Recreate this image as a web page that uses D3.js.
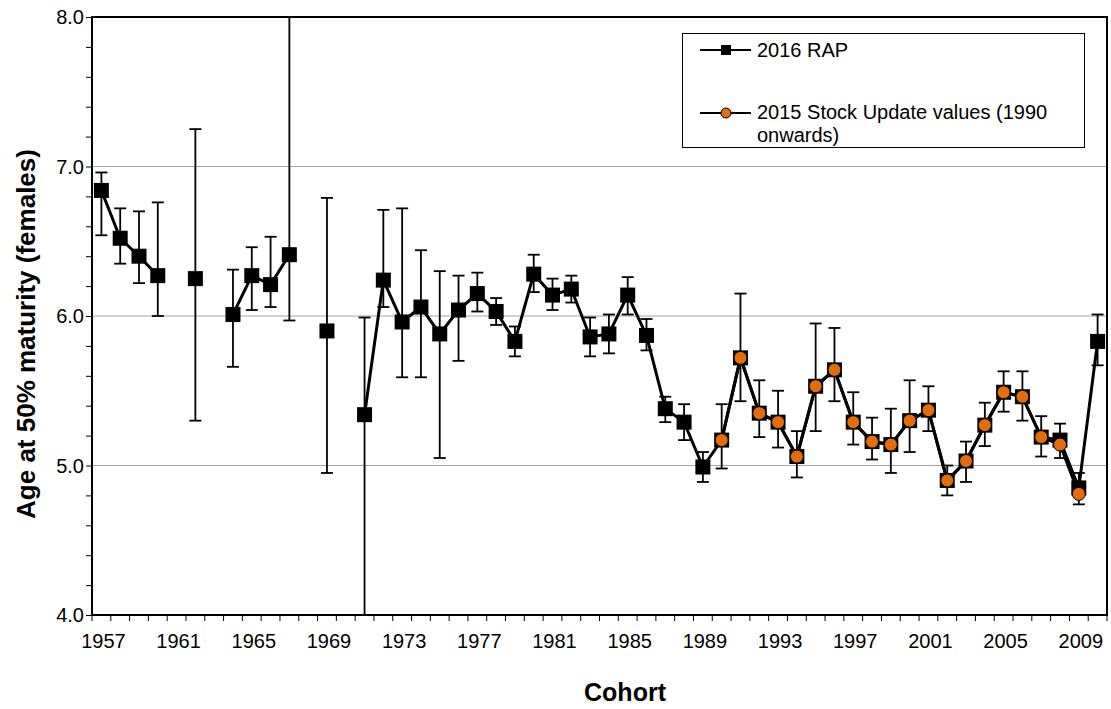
<!DOCTYPE html>
<html>
<head>
<meta charset="utf-8">
<script src="https://cdn.jsdelivr.net/npm/d3@7"></script>
<style>
    body { margin: 0; background: #fff; }
    text { font-family: "Liberation Sans", Arial, sans-serif; }
</style>
</head>
<body>
<div id="chart"></div>
<script>
// cohorts on the x axis (category axis, one slot per year)
const years = d3.range(1957, 2011);
const tickYears = [1957, 1961, 1965, 1969, 1973, 1977, 1981, 1985, 1989, 1993, 1997, 2001, 2005, 2009];
const yTicks = [4.0, 5.0, 6.0, 7.0, 8.0];

// 2016 RAP estimates (null = no estimate for that cohort)
const rapYears = years;
const rapValues = [6.84, 6.52, 6.40, 6.27, null, 6.25, null, 6.01, 6.27, 6.21, 6.41, null, 5.90, null,
    5.34, 6.24, 5.96, 6.06, 5.88, 6.04, 6.15, 6.03, 5.83, 6.28, 6.14, 6.18, 5.86, 5.88, 6.14, 5.87,
    5.38, 5.29, 4.99, 5.17, 5.72, 5.35, 5.29, 5.06, 5.53, 5.64, 5.29, 5.16, 5.14, 5.30, 5.37, 4.90,
    5.03, 5.27, 5.49, 5.46, 5.19, 5.17, 4.85, 5.83];
const rapLower = [6.54, 6.35, 6.22, 6.00, null, 5.30, null, 5.66, 6.04, 6.06, 5.97, null, 4.95, null,
    3.50, 6.06, 5.59, 5.59, 5.05, 5.70, 6.03, 5.94, 5.73, 6.16, 6.04, 6.09, 5.73, 5.75, 6.01, 5.77,
    5.29, 5.17, 4.89, 4.98, 5.43, 5.19, 5.12, 4.92, 5.23, 5.43, 5.14, 5.04, 4.95, 5.09, 5.23, 4.80,
    4.89, 5.13, 5.36, 5.30, 5.06, 5.05, 4.74, 5.67];
const rapUpper = [6.96, 6.72, 6.70, 6.76, null, 7.25, null, 6.31, 6.46, 6.53, 8.50, null, 6.79, null,
    5.99, 6.71, 6.72, 6.44, 6.30, 6.27, 6.29, 6.12, 5.93, 6.41, 6.25, 6.27, 5.99, 6.01, 6.26, 5.98,
    5.46, 5.41, 5.09, 5.41, 6.15, 5.57, 5.50, 5.23, 5.95, 5.92, 5.49, 5.32, 5.38, 5.57, 5.53, 5.00,
    5.16, 5.42, 5.63, 5.63, 5.33, 5.28, 4.95, 6.01];

// 2015 stock update values, 1990 onwards
const stockYears = d3.range(1990, 2010);
const stockValues = [5.17, 5.72, 5.35, 5.29, 5.06, 5.53, 5.64, 5.29, 5.16, 5.14, 5.30, 5.37, 4.90,
    5.03, 5.27, 5.49, 5.46, 5.19, 5.14, 4.81];

const seriesNames = ["2016 RAP", "2015 Stock Update values (1990", "onwards)"];

(function() {
    const width = 1111;
    const height = 709;
    const margin = { top: 17, right: 4, bottom: 94, left: 92 };
    const orange = "#e46c0a";

    const svg = d3.select("#chart")
        .append("svg")
        .attr("width", width)
        .attr("height", height);

    const x = d3.scaleBand()
        .domain(years)
        .range([margin.left, width - margin.right]);

    const y = d3.scaleLinear()
        .domain([4, 8])
        .range([height - margin.bottom, margin.top]);

    svg.append("clipPath")
        .attr("id", "plot-clip")
        .append("rect")
        .attr("x", margin.left)
        .attr("y", margin.top)
        .attr("width", width - margin.left - margin.right)
        .attr("height", height - margin.top - margin.bottom);

    // gridlines
    svg.append("g")
        .selectAll("line")
        .data([5, 6, 7])
        .join("line")
        .attr("x1", margin.left)
        .attr("x2", width - margin.right)
        .attr("y1", d => y(d))
        .attr("y2", d => y(d))
        .attr("stroke", "#a6a6a6")
        .attr("stroke-width", 1);

    // y axis with minor ticks every 0.2
    svg.append("g")
        .attr("transform", `translate(${margin.left},0)`)
        .call(d3.axisLeft(y).tickValues(d3.range(4, 8.01, 0.2)).tickFormat("").tickSize(6))
        .call(g => g.select(".domain").remove())
        .call(g => g.selectAll("line").attr("stroke", "#000"));

    svg.append("g")
        .selectAll("text")
        .data(yTicks)
        .join("text")
        .attr("x", margin.left - 8)
        .attr("y", d => y(d))
        .attr("dy", "0.35em")
        .attr("text-anchor", "end")
        .style("font-size", "20px")
        .text(d => d.toFixed(1));

    // x axis ticks sit between the categories
    const xBounds = years.map(d => x(d)).concat([x(years[years.length - 1]) + x.bandwidth()]);
    svg.append("g")
        .selectAll("line")
        .data(xBounds)
        .join("line")
        .attr("x1", d => d)
        .attr("x2", d => d)
        .attr("y1", y(4))
        .attr("y2", y(4) + 6)
        .attr("stroke", "#000");

    svg.append("g")
        .selectAll("text")
        .data(tickYears)
        .join("text")
        .attr("x", d => x(d) + x.bandwidth() / 2 + 2)
        .attr("y", y(4) + 33)
        .attr("text-anchor", "middle")
        .style("font-size", "20px")
        .text(d => d);

    const cx = d => x(d) + x.bandwidth() / 2;

    const plot = svg.append("g").attr("clip-path", "url(#plot-clip)");

    const rap = rapYears.map((d, i) => ({ year: d, value: rapValues[i], lo: rapLower[i], hi: rapUpper[i] }));
    const rapPoints = rap.filter(d => d.value !== null);
    const stock = stockYears.map((d, i) => ({ year: d, value: stockValues[i] }));

    // error bars
    const capW = 6;
    const bars = plot.append("g")
        .attr("stroke", "#000")
        .attr("stroke-width", 1.8)
        .selectAll("g")
        .data(rapPoints)
        .join("g");
    bars.append("line")
        .attr("x1", d => cx(d.year))
        .attr("x2", d => cx(d.year))
        .attr("y1", d => y(d.lo))
        .attr("y2", d => y(d.hi));
    bars.append("line")
        .attr("x1", d => cx(d.year) - capW)
        .attr("x2", d => cx(d.year) + capW)
        .attr("y1", d => y(d.lo))
        .attr("y2", d => y(d.lo));
    bars.append("line")
        .attr("x1", d => cx(d.year) - capW)
        .attr("x2", d => cx(d.year) + capW)
        .attr("y1", d => y(d.hi))
        .attr("y2", d => y(d.hi));

    const line = d3.line()
        .defined(d => d.value !== null)
        .x(d => cx(d.year))
        .y(d => y(d.value));

    plot.append("path")
        .datum(rap)
        .attr("fill", "none")
        .attr("stroke", "#000")
        .attr("stroke-width", 3)
        .attr("d", line);

    const sq = 15;
    plot.append("g")
        .selectAll("rect")
        .data(rapPoints)
        .join("rect")
        .attr("x", d => cx(d.year) - sq / 2)
        .attr("y", d => y(d.value) - sq / 2)
        .attr("width", sq)
        .attr("height", sq)
        .attr("fill", "#000");

    plot.append("path")
        .datum(stock)
        .attr("fill", "none")
        .attr("stroke", "#000")
        .attr("stroke-width", 3)
        .attr("d", line);

    plot.append("g")
        .selectAll("circle")
        .data(stock)
        .join("circle")
        .attr("cx", d => cx(d.year))
        .attr("cy", d => y(d.value))
        .attr("r", 6.5)
        .attr("fill", orange)
        .attr("stroke", "#000")
        .attr("stroke-width", 1);

    // plot frame
    svg.append("rect")
        .attr("x", margin.left)
        .attr("y", margin.top)
        .attr("width", width - margin.left - margin.right)
        .attr("height", height - margin.top - margin.bottom)
        .attr("fill", "none")
        .attr("stroke", "#000")
        .attr("stroke-width", 2);

    // legend
    const legend = svg.append("g");
    legend.append("rect")
        .attr("x", 682.5)
        .attr("y", 33.5)
        .attr("width", 402)
        .attr("height", 114)
        .attr("fill", "#fff")
        .attr("stroke", "#000")
        .attr("stroke-width", 1);

    [50, 113].forEach(ly => {
        legend.append("line")
            .attr("x1", 700)
            .attr("x2", 751)
            .attr("y1", ly)
            .attr("y2", ly)
            .attr("stroke", "#000")
            .attr("stroke-width", 2.2);
    });
    legend.append("rect")
        .attr("x", 726 - 5)
        .attr("y", 50 - 5)
        .attr("width", 10)
        .attr("height", 10)
        .attr("fill", "#000");
    legend.append("circle")
        .attr("cx", 726)
        .attr("cy", 113)
        .attr("r", 5)
        .attr("fill", orange)
        .attr("stroke", "#000")
        .attr("stroke-width", 1);

    legend.selectAll("text.lbl")
        .data(seriesNames)
        .join("text")
        .attr("class", "lbl")
        .attr("x", 757)
        .attr("y", (d, i) => [50, 112, 135][i])
        .attr("dy", "0.35em")
        .style("font-size", "20px")
        .text(d => d);

    // axis titles
    svg.append("text")
        .attr("transform", `translate(35,334) rotate(-90)`)
        .attr("text-anchor", "middle")
        .style("font-size", "26px")
        .style("font-weight", "bold")
        .text("Age at 50% maturity (females)");

    svg.append("text")
        .attr("x", 625)
        .attr("y", 701)
        .attr("text-anchor", "middle")
        .style("font-size", "25px")
        .style("font-weight", "bold")
        .text("Cohort");
})();
</script>
</body>
</html>
